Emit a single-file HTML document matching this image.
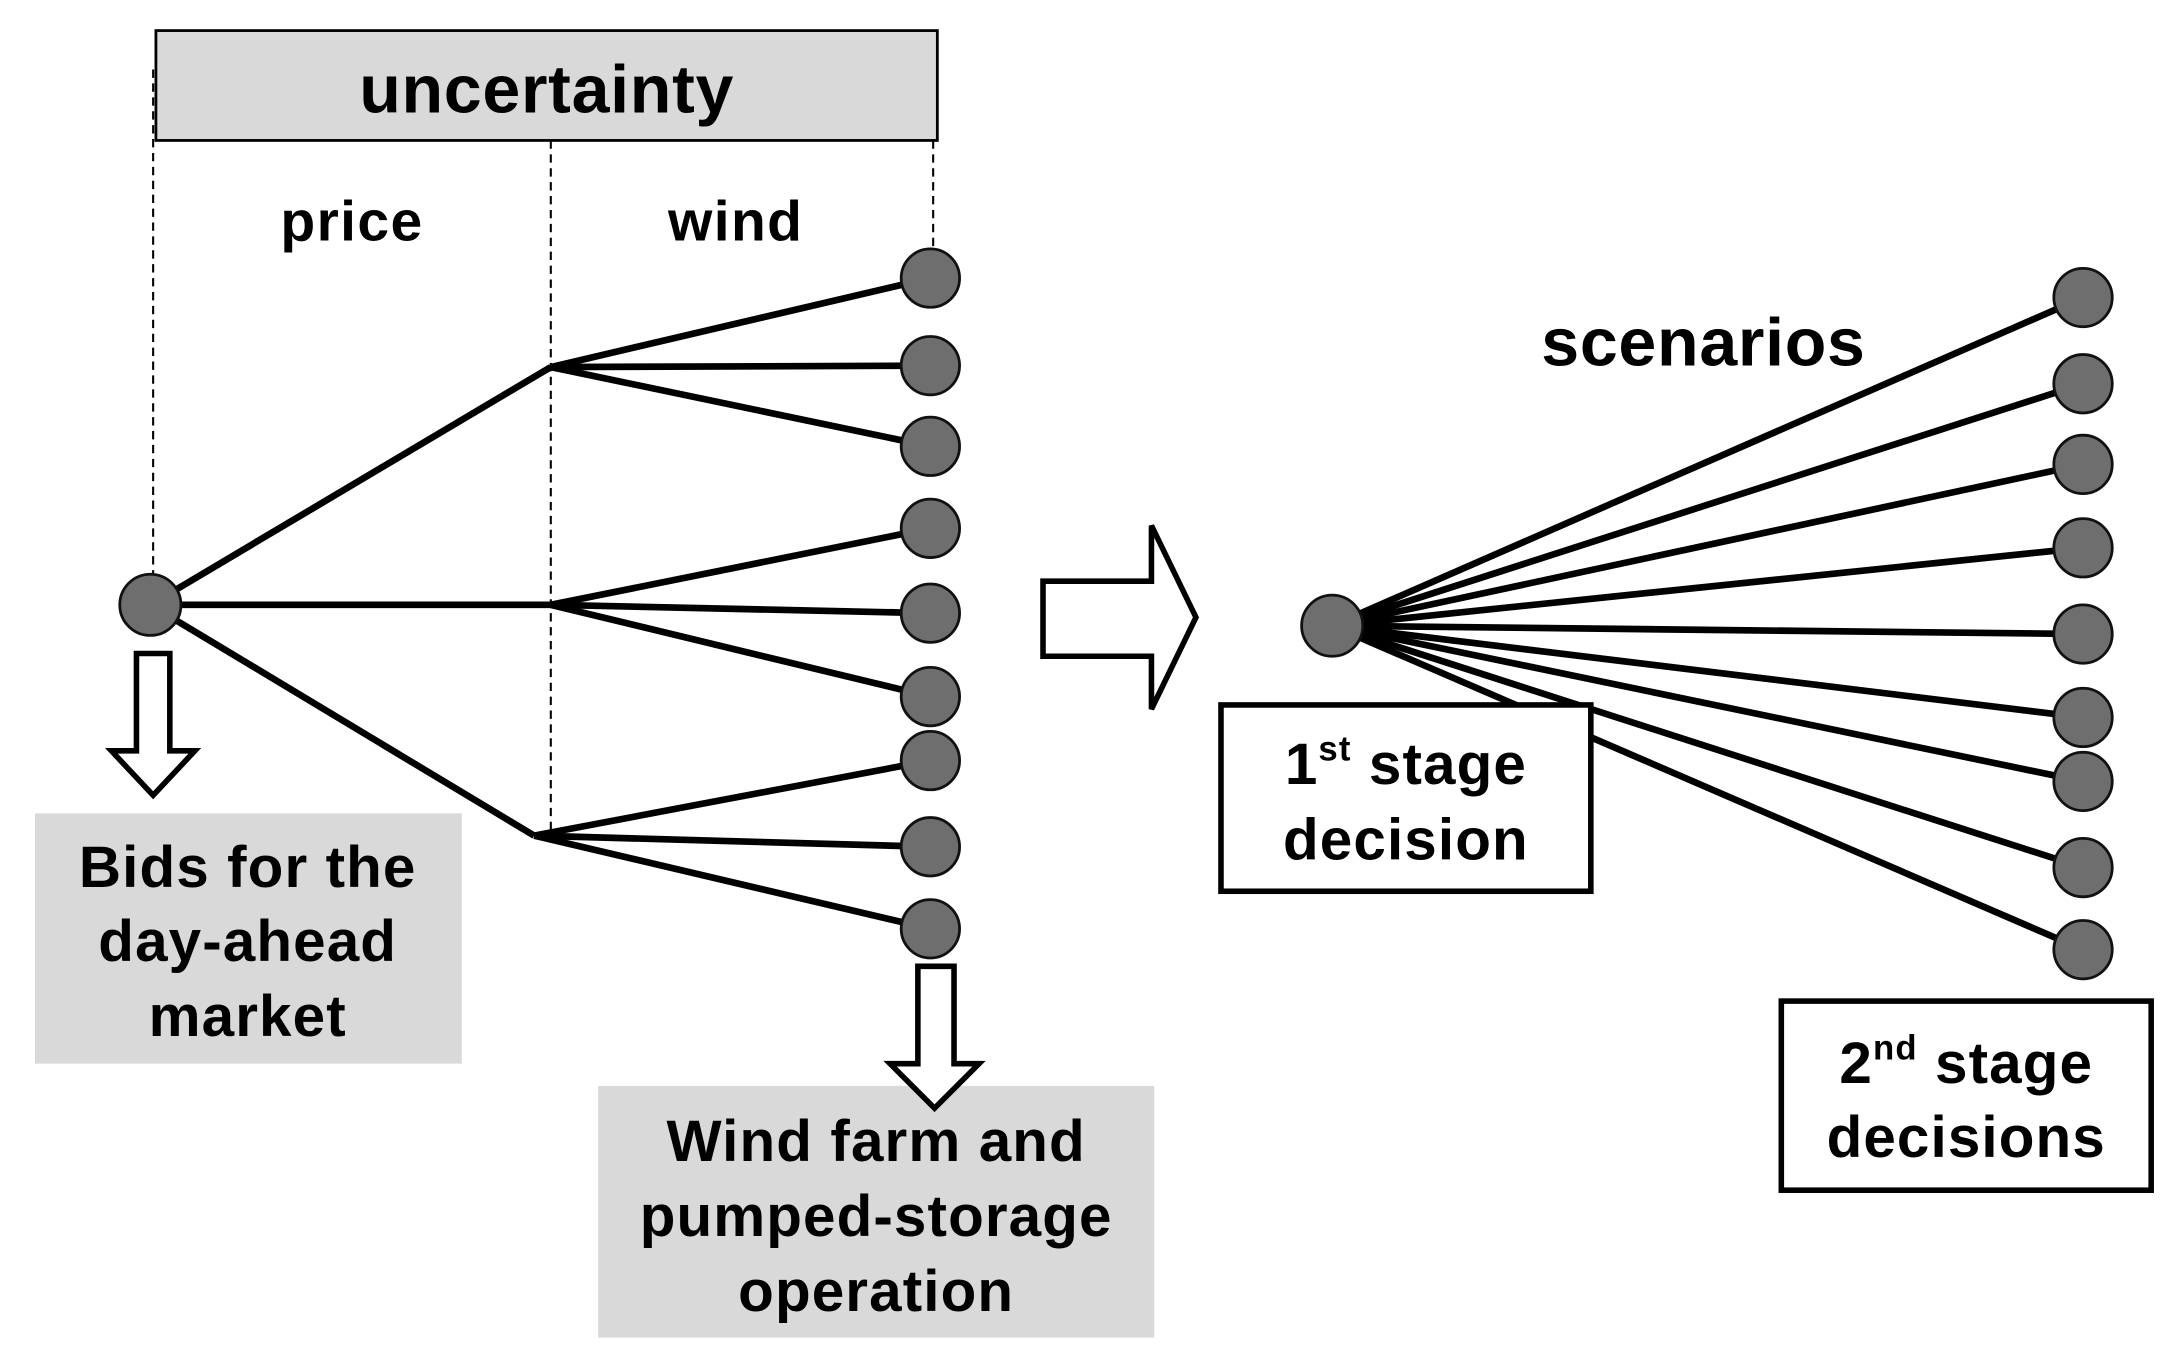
<!DOCTYPE html>
<html><head><meta charset="utf-8"><style>html,body{margin:0;padding:0;background:#fff}svg{display:block}</style></head>
<body>
<svg width="2175" height="1364" viewBox="0 0 1564 981" xmlns="http://www.w3.org/2000/svg" font-family="Liberation Sans, Arial, sans-serif" font-weight="bold" text-anchor="middle">
<rect x="112" y="22" width="562" height="79" fill="#d9d9d9" stroke="#000" stroke-width="2"/>
<text x="393" y="81" font-size="49" letter-spacing="0.5">uncertainty</text>
<g stroke="#000" stroke-width="1.5" stroke-dasharray="6,4">
<line x1="110" y1="50" x2="110" y2="420"/>
<line x1="396" y1="101" x2="396" y2="600"/>
<line x1="671" y1="101" x2="671" y2="178"/>
</g>
<text x="253" y="173" font-size="41" letter-spacing="1">price</text>
<text x="529" y="173" font-size="41" letter-spacing="1">wind</text>
<g stroke="#000" stroke-width="4.8" fill="none">
<line x1="108" y1="435" x2="396" y2="264"/>
<line x1="108" y1="435" x2="396" y2="435"/>
<line x1="108" y1="435" x2="384" y2="601"/>
<line x1="396" y1="264" x2="669" y2="200"/><line x1="396" y1="264" x2="669" y2="263"/><line x1="396" y1="264" x2="669" y2="321"/>
<line x1="396" y1="435" x2="669" y2="380"/><line x1="396" y1="435" x2="669" y2="441"/><line x1="396" y1="435" x2="669" y2="501"/>
<line x1="384" y1="601" x2="669" y2="547"/><line x1="384" y1="601" x2="669" y2="609"/><line x1="384" y1="601" x2="669" y2="668"/>
<line x1="958" y1="450" x2="1498" y2="214"/><line x1="958" y1="450" x2="1498" y2="276"/><line x1="958" y1="450" x2="1498" y2="334"/>
<line x1="958" y1="450" x2="1498" y2="394"/><line x1="958" y1="450" x2="1498" y2="456"/><line x1="958" y1="450" x2="1498" y2="516"/>
<line x1="958" y1="450" x2="1498" y2="562"/><line x1="958" y1="450" x2="1498" y2="624"/><line x1="958" y1="450" x2="1498" y2="683"/>
</g>
<g fill="#6e6e6e" stroke="#111" stroke-width="2">
<circle cx="108" cy="435" r="22"/>
<circle cx="669" cy="200" r="21"/><circle cx="669" cy="263" r="21"/><circle cx="669" cy="321" r="21"/>
<circle cx="669" cy="380" r="21"/><circle cx="669" cy="441" r="21"/><circle cx="669" cy="501" r="21"/>
<circle cx="669" cy="547" r="21"/><circle cx="669" cy="609" r="21"/><circle cx="669" cy="668" r="21"/>
<circle cx="958" cy="450" r="22"/>
<circle cx="1498" cy="214" r="21"/><circle cx="1498" cy="276" r="21"/><circle cx="1498" cy="334" r="21"/>
<circle cx="1498" cy="394" r="21"/><circle cx="1498" cy="456" r="21"/><circle cx="1498" cy="516" r="21"/>
<circle cx="1498" cy="562" r="21"/><circle cx="1498" cy="624" r="21"/><circle cx="1498" cy="683" r="21"/>
</g>
<rect x="25" y="585" width="307" height="180" fill="#d9d9d9"/>
<g font-size="42" letter-spacing="0.8"><text x="178" y="638">Bids for the</text><text x="178" y="691">day-ahead</text><text x="178" y="745">market</text></g>
<rect x="430" y="781" width="400" height="181" fill="#d9d9d9"/>
<g font-size="42" letter-spacing="0.8"><text x="630" y="835">Wind farm and</text><text x="630" y="889">pumped-storage</text><text x="630" y="943">operation</text></g>
<g fill="#fff" stroke="#000" stroke-width="4" stroke-linejoin="miter">
<polygon points="98,470 122,470 122,540 140,540 110,572 80,540 98,540"/>
<polygon points="660,695 686,695 686,765 704,765 672,797 640,765 660,765"/>
<polygon points="750,418 828,418 828,378 860,444 828,510 828,472 750,472"/>
</g>
<text x="1225" y="263" font-size="49" letter-spacing="0.5">scenarios</text>
<rect x="878" y="507" width="266" height="134" fill="#fff" stroke="#000" stroke-width="4"/>
<text x="1011" y="564" font-size="42" letter-spacing="0.8">1<tspan font-size="25" dy="-17">st</tspan><tspan dy="17"> stage</tspan></text>
<text x="1011" y="618" font-size="42" letter-spacing="0.8">decision</text>
<rect x="1281" y="720" width="266" height="136" fill="#fff" stroke="#000" stroke-width="4"/>
<text x="1414" y="779" font-size="42" letter-spacing="0.8">2<tspan font-size="25" dy="-17">nd</tspan><tspan dy="17"> stage</tspan></text>
<text x="1414" y="832" font-size="42" letter-spacing="0.8">decisions</text>
</svg>
</body></html>
